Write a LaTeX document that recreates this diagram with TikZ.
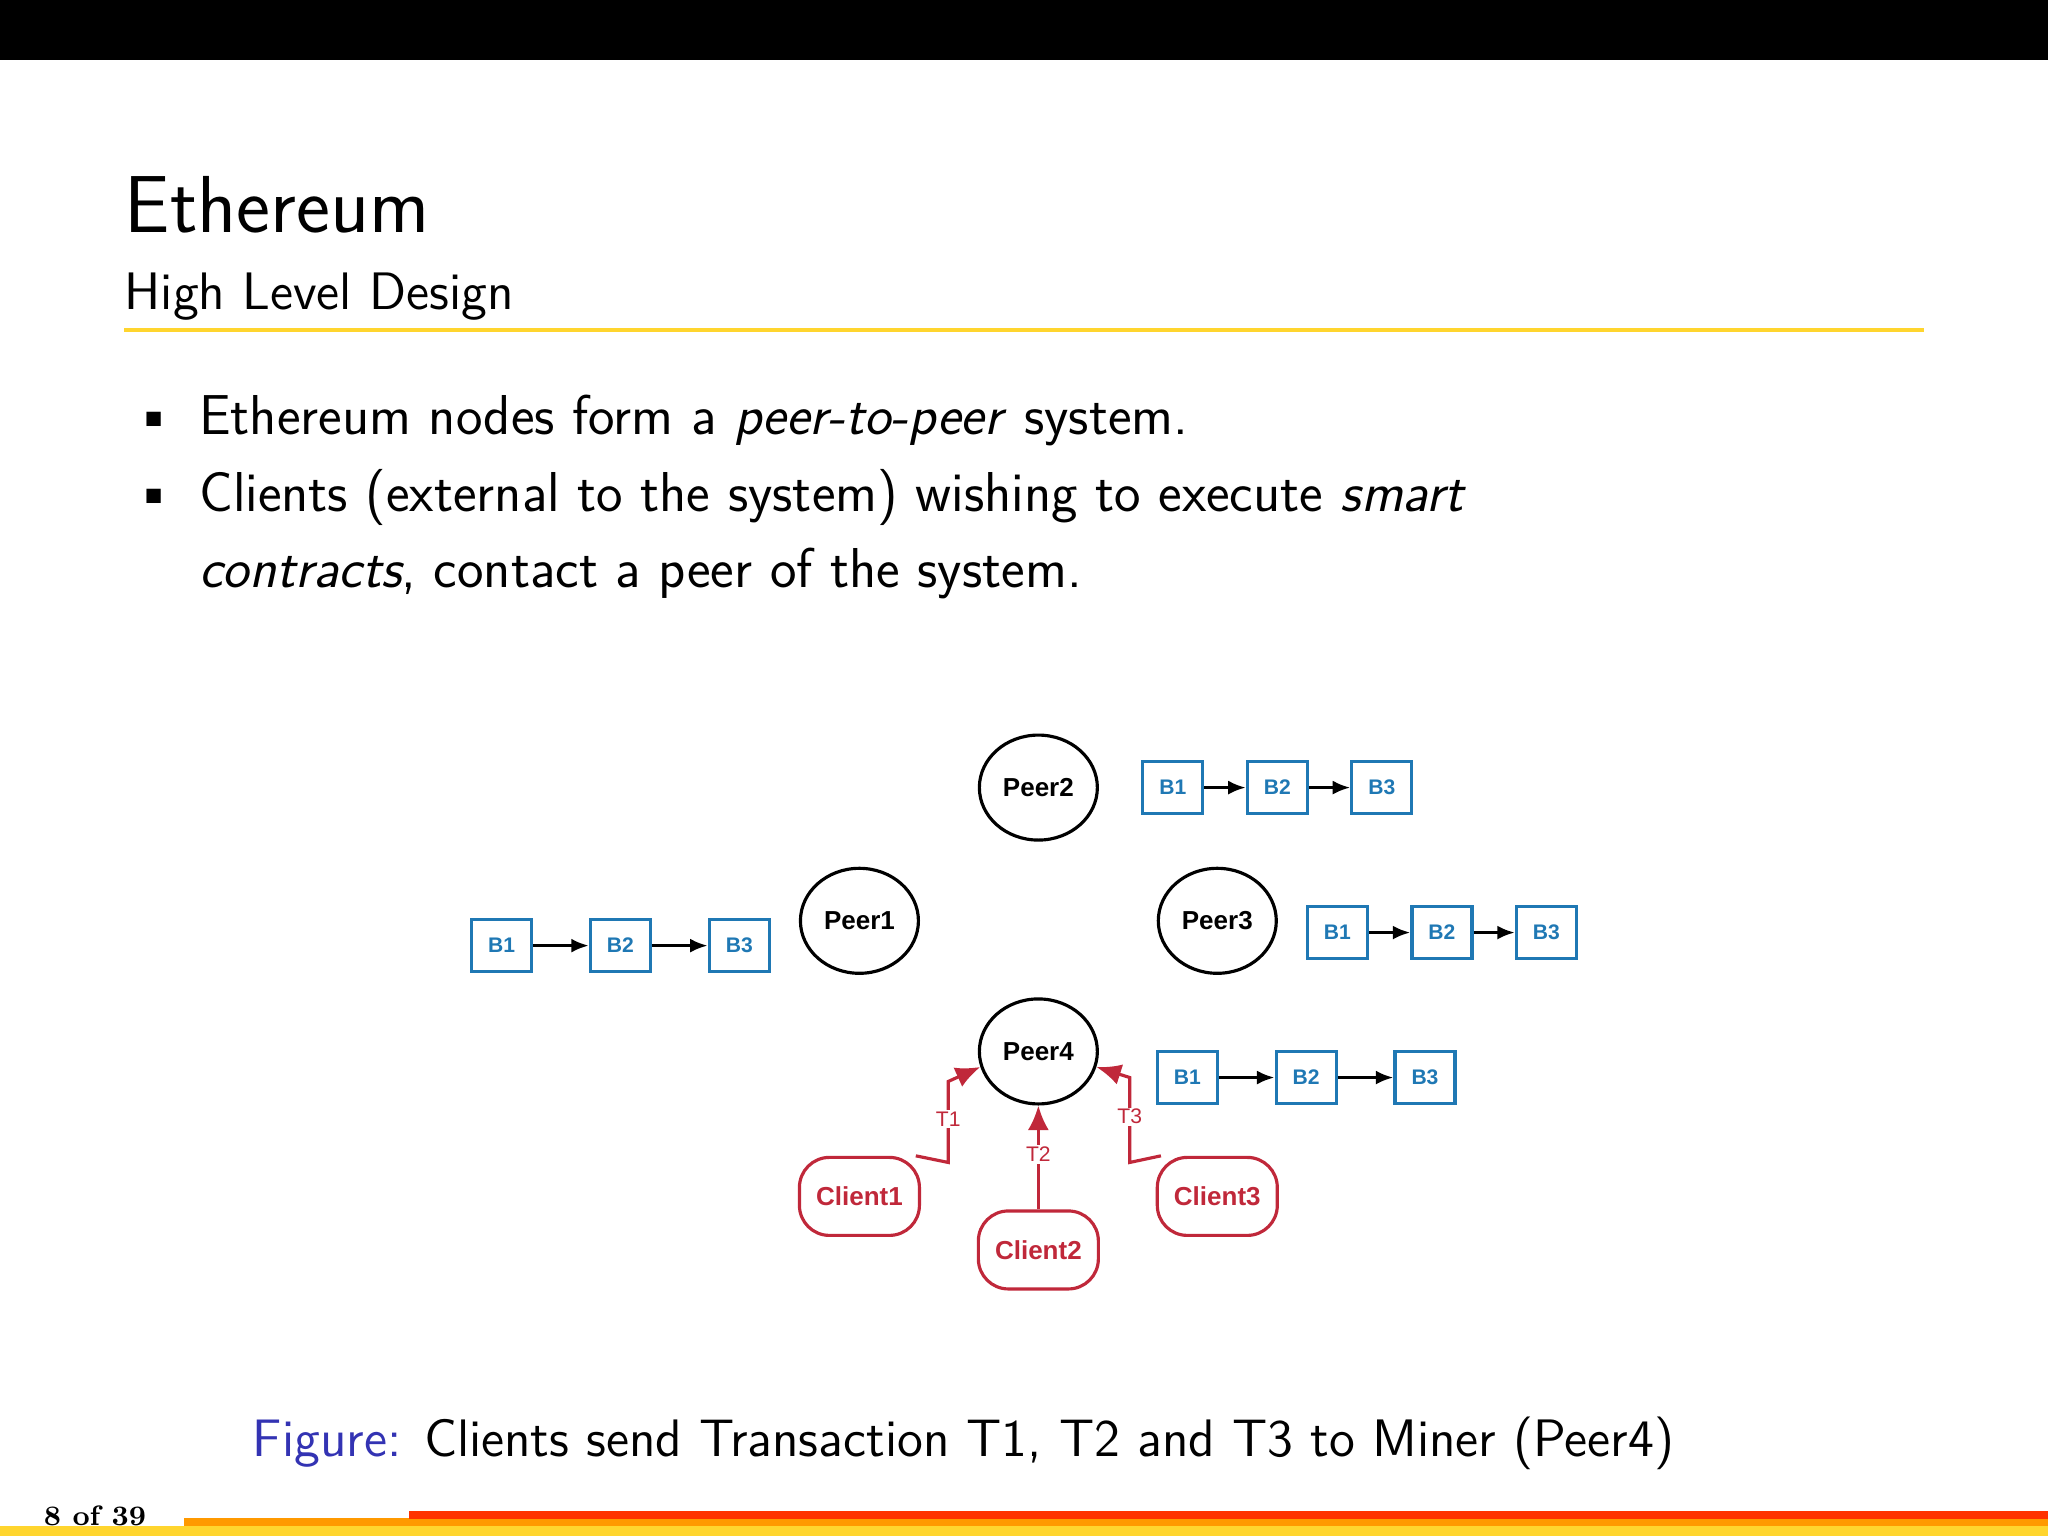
\documentclass[tikz,border=0pt]{standalone}
\usepackage{fontspec}
\newfontfamily\dia{Liberation Sans}
\usetikzlibrary{arrows.meta,shapes.geometric}
\definecolor{blk}{HTML}{1F78B4}
\definecolor{cl}{HTML}{C0283A}
\definecolor{figblue}{HTML}{3333B3}
\definecolor{yel}{HTML}{FFD52E}
\begin{document}
\begin{tikzpicture}[x=0.013061cm,y=-0.013061cm,
  peer/.style={ellipse,draw,line width=0.9pt,minimum width=92\pgflinewidth,inner sep=0,minimum width=1.18cm,minimum height=1.05cm,font=\dia\bfseries\fontsize{7.4}{8}\selectfont},
  blk/.style={rectangle,draw=blk,line width=0.9pt,minimum width=0.6cm,minimum height=0.52cm,inner sep=0,text=blk,font=\dia\bfseries\fontsize{6}{7}\selectfont},
  cli/.style={rectangle,rounded corners=0.3cm,draw=cl,line width=0.9pt,minimum width=1.2cm,minimum height=0.78cm,inner sep=0,text=cl,font=\dia\bfseries\fontsize{7.4}{8}\selectfont},
  bar/.style={-{Latex[length=5pt,width=4pt]},line width=0.9pt},
  tx/.style={-{Latex[length=7pt,width=6pt]},draw=cl,line width=0.9pt},
  tl/.style={fill=white,inner sep=0.5pt,text=cl,font=\dia\fontsize{6}{7}\selectfont}]
\useasboundingbox (0,0) rectangle (1568,1176);
\fill[black] (0,0) rectangle (1568,46);
\node[anchor=base west,inner sep=0,font=\sffamily\fontsize{23}{27}\selectfont] (title) at (95,178) {Ethereum};
\node[anchor=base west,inner sep=0,font=\sffamily\fontsize{15}{18}\selectfont] (sub) at (95,237) {High Level Design};
\fill[yel] (95,251) rectangle (1473,254);
\begin{scope}[font=\sffamily\fontsize{16}{20}\selectfont]
\node[anchor=base,inner sep=0] (d1) at (118,333) {\textbullet};
\node[anchor=base west,inner sep=0] (l1) at (152,333) {Ethereum nodes form a \textit{peer-to-peer} system.};
\node[anchor=base,inner sep=0] (d2) at (118,392) {\textbullet};
\node[anchor=base west,inner sep=0] (l2) at (152,392) {Clients (external to the system) wishing to execute \textit{smart}};
\node[anchor=base west,inner sep=0] (l3) at (152,450) {\textit{contracts}, contact a peer of the system.};
\end{scope}
% peers
\node[peer] (p2) at (795,603) {Peer2};
\node[peer] (p1) at (658,705) {Peer1};
\node[peer] (p3) at (932,705) {Peer3};
\node[peer] (p4) at (795,805) {Peer4};
% blocks
\foreach \n/\x/\y/\d in {a/898/603/80,b/384/724/91,c/1024/714/80,d/909/825/91}{
  \node[blk] (\n1) at (\x,\y) {B1};
  \node[blk] (\n2) at (\x+\d,\y) {B2};
  \node[blk] (\n3) at (\x+2*\d,\y) {B3};
  \draw[bar] (\n1) -- (\n2);
  \draw[bar] (\n2) -- (\n3);
}
% clients
\node[cli] (c1) at (658,916) {Client1};
\node[cli] (c2) at (795,957) {Client2};
\node[cli] (c3) at (932,916) {Client3};
\coordinate (k1) at (726,890);
\coordinate (k3) at (865,890);
\draw[tx] (c1.north east) ++(-4,0) -- (k1) -- (726,828) -- (p4.195);
\draw[tx] (c2) -- (p4);
\draw[tx] (c3.north west) ++(4,0) -- (k3) -- (865,825) -- (p4.-15);
\node[tl] (t1) at (726,857) {T1};
\node[tl] (t2) at (795,884) {T2};
\node[tl] (t3) at (865,855) {T3};
% caption
\node[anchor=base west,inner sep=0,font=\sffamily\fontsize{15}{18}\selectfont] (cap) at (193,1115) {\textcolor{figblue}{Figure:} Clients send Transaction T1, T2 and T3 to Miner (Peer4)};
% footer
\node[anchor=base west,inner sep=0,font=\bfseries\fontsize{8}{9}\selectfont] (pg) at (33,1168) {8 of 39};
\fill[yel] (0,1168) rectangle (1568,1176);
\fill[orange!80!yellow] (141,1162) rectangle (1568,1168);
\fill[red!60!orange] (313,1157) rectangle (1568,1163);
\end{tikzpicture}
\end{document}
